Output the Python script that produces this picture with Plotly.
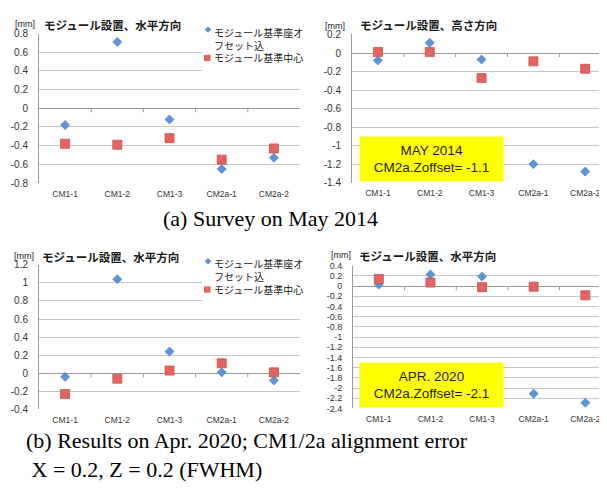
import plotly.graph_objects as go

# ---------------- data ----------------
categories = ["CM1-1", "CM1-2", "CM1-3", "CM2a-1", "CM2a-2"]

series_names = ["モジュール基準座オフセット込", "モジュール基準中心"]

# (a) Survey on May 2014
a_horiz_offset = [-0.18, 0.71, -0.12, -0.65, -0.53]
a_horiz_center = [-0.38, -0.39, -0.32, -0.55, -0.43]
a_height_offset = [-0.08, 0.11, -0.07, -1.20, -1.28]
a_height_center = [0.01, 0.01, -0.27, -0.09, -0.17]

# (b) Results on Apr. 2020
b_horiz_offset = [-0.04, 1.04, 0.24, 0.01, -0.08]
b_horiz_center = [-0.23, -0.06, 0.03, 0.11, 0.01]
b_height_offset = [0.03, 0.23, 0.19, -2.11, -2.29]
b_height_center = [0.14, 0.07, -0.02, -0.01, -0.18]

# tick labels
ticks_a_left = [0.8, 0.6, 0.4, 0.2, 0, -0.2, -0.4, -0.6, -0.8]
ticks_a_right = [0.2, 0, -0.2, -0.4, -0.6, -0.8, -1, -1.2, -1.4]
ticks_b_left = [1.2, 1, 0.8, 0.6, 0.4, 0.2, 0, -0.2, -0.4]
ticks_b_right = [0.4, 0.2, 0, -0.2, -0.4, -0.6, -0.8, -1, -1.2, -1.4, -1.6,
                 -1.8, -2, -2.2, -2.4]

titles = ["モジュール設置、水平方向", "モジュール設置、高さ方向",
          "モジュール設置、水平方向", "モジュール設置、水平方向"]
unit_label = "[mm]"
box_texts = ["MAY 2014<br>CM2a.Zoffset= -1.1", "APR. 2020<br>CM2a.Zoffset= -2.1"]
caption_a = "(a) Survey on May 2014"
caption_b = "(b) Results on Apr. 2020; CM1/2a alignment error<br>\u00a0X = 0.2, Z = 0.2 (FWHM)"

# ---------------- layout helpers ----------------
OFF = 8
W, H = 607 - OFF, 496 - 2 * OFF


def px(x):
    return (x - OFF) / W


def py(y):
    return (H - (y - OFF)) / H


def fmt(v):
    return "%g" % v


JP = "Noto Sans CJK JP"
LAT = "Liberation Sans"
BLUE = "#5d93d8"
BLUE_LINE = "#4a7fc4"
RED = "#e5645f"
RED_LINE = "#c4504c"
GRID = "#c6c6c6"
AXIS = "#9a9a9a"

panels = [
    ("x", "y", (39, 300), (29, 182), (-0.8, 0.8), ticks_a_left, a_horiz_offset, a_horiz_center, 4.5, 10),
    ("x2", "y2", (352, 607), (30, 181.7), (-1.4, 0.2), ticks_a_right, a_height_offset, a_height_center, 4.42, 10),
    ("x3", "y3", (39, 300), (265.7, 413.7), (-0.4, 1.2), ticks_b_left, b_horiz_offset, b_horiz_center, 4.5, 10),
    ("x4", "y4", (353, 607), (266.7, 412.7), (-2.4, 0.4), ticks_b_right, b_height_offset, b_height_center, 4.42, 9),
]

fig = go.Figure()
layout = dict(
    width=W, height=H,
    margin=dict(l=0, r=0, t=0, b=0),
    paper_bgcolor="white", plot_bgcolor="white",
    showlegend=False,
)
shapes = []
annotations = []

for i, (xa, ya, xd, yd, yr, tv, off, cen, xmax, tfs) in enumerate(panels):
    n = "" if i == 0 else str(i + 1)
    fig.add_trace(go.Scatter(
        x=categories, y=off, mode="markers", name=series_names[0],
        xaxis=xa, yaxis=ya,
        marker=dict(symbol="diamond", size=7, color=BLUE,
                    line=dict(color=BLUE_LINE, width=0.6)),
    ))
    fig.add_trace(go.Scatter(
        x=categories, y=cen, mode="markers", name=series_names[1],
        xaxis=xa, yaxis=ya,
        marker=dict(symbol="square", size=9, color=RED,
                    line=dict(color=RED_LINE, width=0.8)),
    ))
    layout["xaxis" + n] = dict(
        domain=[px(xd[0]), min(1.0, px(xd[1]))], anchor=ya,
        type="category", categoryorder="array", categoryarray=categories,
        range=[-0.5, xmax], showgrid=False, showline=False, zeroline=False,
        ticks="", tickfont=dict(family=LAT, size=8.5, color="#333"),
        ticklabelstandoff=4, ticklabeloverflow="allow", fixedrange=True,
    )
    layout["yaxis" + n] = dict(
        domain=[py(yd[1]), py(yd[0])], anchor=xa,
        range=list(yr), tickvals=tv, ticktext=[fmt(v) for v in tv],
        showgrid=True, gridcolor=GRID, gridwidth=1,
        zeroline=True, zerolinecolor=AXIS, zerolinewidth=1,
        showline=True, linecolor=AXIS, linewidth=1,
        ticks="", tickfont=dict(family=LAT, size=tfs, color="#333"),
        ticklabelstandoff=8, fixedrange=True,
    )
    for k in range(len(categories) - 1):
        shapes.append(dict(
            type="line", xref=xa, yref=ya, x0=k + 0.5, x1=k + 0.5,
            ysizemode="pixel", yanchor=0, y0=0, y1=-4,
            line=dict(color=AXIS, width=1),
        ))

# titles
title_pos = [((13, 19), (42, 20)), ((323, 21), (358, 20)),
             ((12, 257), (40, 258)), ((329, 256), (357, 257))]
for t, ((ux, uy), (tx, ty)) in zip(titles, title_pos):
    annotations.append(dict(xref="paper", yref="paper", x=px(ux), y=py(uy),
                            xanchor="left", yanchor="middle", showarrow=False,
                            text=unit_label, font=dict(family=LAT, size=9, color="#222")))
    annotations.append(dict(xref="paper", yref="paper", x=px(tx), y=py(ty),
                            xanchor="left", yanchor="middle", showarrow=False,
                            text="<b>" + t + "</b>",
                            font=dict(family=JP, size=11.5, color="#1a1a1a")))

# legends for left panels
for (top, bottom, l1, sq) in [(14, 74, 25, 54), (252, 309, 262, 291)]:
    shapes.append(dict(type="rect", xref="paper", yref="paper",
                       x0=px(202), x1=px(300), y0=py(bottom), y1=py(top),
                       fillcolor="white", line=dict(width=0), layer="above"))
    cx, cy, r = 208, l1, 3.3
    shapes.append(dict(type="path", xref="paper", yref="paper",
                       path="M %f %f L %f %f L %f %f L %f %f Z" % (
                           px(cx), py(cy - r), px(cx + r), py(cy),
                           px(cx), py(cy + r), px(cx - r), py(cy)),
                       fillcolor=BLUE, line=dict(width=0), layer="above"))
    shapes.append(dict(type="rect", xref="paper", yref="paper",
                       x0=px(204), x1=px(210.5), y0=py(sq + 3.2), y1=py(sq - 3.2),
                       fillcolor=RED, line=dict(width=0), layer="above"))
    annotations.append(dict(xref="paper", yref="paper", x=px(212), y=py(l1 - 7),
                            xanchor="left", yanchor="top", align="left", showarrow=False,
                            text="モジュール基準座オ<br>フセット込",
                            font=dict(family=JP, size=10, color="#1a1a1a")))
    annotations.append(dict(xref="paper", yref="paper", x=px(212), y=py(sq),
                            xanchor="left", yanchor="middle", showarrow=False,
                            text=series_names[1],
                            font=dict(family=JP, size=10, color="#1a1a1a")))

# yellow boxes
for txt, cy in zip(box_texts, [157, 388.5]):
    annotations.append(dict(xref="paper", yref="paper", x=px(431.5), y=py(cy),
                            xanchor="center", yanchor="middle", showarrow=False,
                            text=txt, align="center", width=141, height=42,
                            bgcolor="#ffff00", borderpad=1,
                            font=dict(family=LAT, size=13.5, color="#222")))

# captions
annotations.append(dict(xref="paper", yref="paper", x=px(270), y=py(218),
                        xanchor="center", yanchor="middle", showarrow=False,
                        text=caption_a,
                        font=dict(family="Liberation Serif", size=22, color="black")))
annotations.append(dict(xref="paper", yref="paper", x=px(24), y=py(431),
                        xanchor="left", yanchor="top", align="left", showarrow=False,
                        text=caption_b,
                        font=dict(family="Liberation Serif", size=22, color="black")))

layout["shapes"] = shapes
layout["annotations"] = annotations
fig.update_layout(**layout)
fig.write_html("out.html")
